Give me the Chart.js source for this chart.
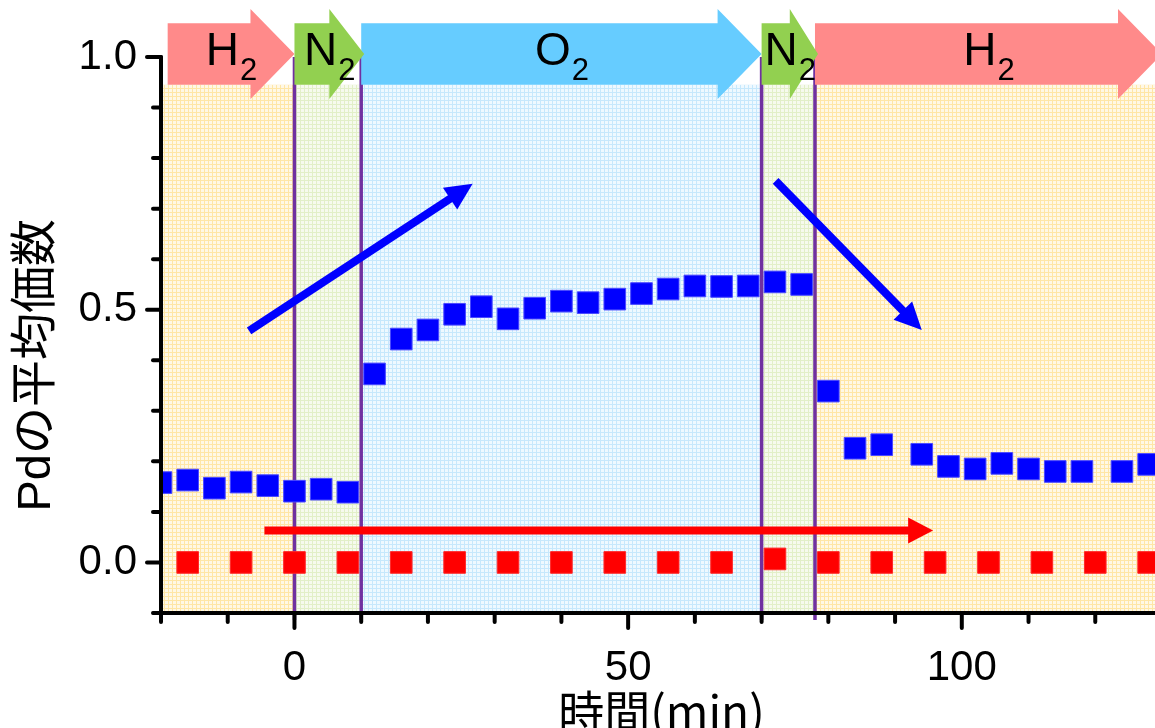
<!DOCTYPE html>
<html>
<head>
<meta charset="utf-8">
<script src="https://cdn.jsdelivr.net/npm/chart.js@4/dist/chart.umd.min.js"></script>
<style>
  html, body { margin: 0; padding: 0; overflow: hidden; background: #fff; }
  canvas { display: block; }
</style>
</head>
<body>
<canvas id="chart" width="1200" height="760"></canvas>
<script>
// Time (min) and average Pd valence, sampled every 4 min
const blueTime = [-20, -16, -12, -8, -4, 0, 4, 8, 12, 16, 20, 24, 28, 32, 36, 40, 44, 48,
                  52, 56, 60, 64, 68, 72, 76, 80, 84, 88, 94, 98, 102, 106, 110, 114, 118, 124, 128];
const blueValue = [0.158, 0.163, 0.147, 0.159, 0.152, 0.141, 0.145, 0.139, 0.373, 0.442, 0.460,
                   0.491, 0.506, 0.482, 0.503, 0.517, 0.514, 0.521, 0.532, 0.541, 0.547, 0.546,
                   0.547, 0.555, 0.550, 0.339, 0.226, 0.233, 0.214, 0.190, 0.185, 0.196, 0.185,
                   0.180, 0.180, 0.180, 0.194];

// Reference series, sampled every 8 min
const redTime = [-16, -8, 0, 8, 16, 24, 32, 40, 48, 56, 64, 72, 80, 88, 96, 104, 112, 120, 128];
const redValue = [0, 0, 0, 0, 0, 0, 0, 0, 0, 0, 0, 0.007, 0, 0, 0, 0, 0, 0, 0];

// Gas atmosphere phases
const phaseGas = ['H', 'N', 'O', 'N', 'H'];
const phaseStart = [-20, 0, 10, 70, 78];
const phaseEnd = [0, 10, 70, 78, 130];

// Axis ranges and labelled ticks
const xMin = -20, xMax = 130, xStep = 10, xLabelEvery = 50;
const yMin = -0.1, yMax = 1.0, yStep = 0.1, yLabelEvery = 0.5;
const yTitle = 'Pdの平均価数';
const xTitle = '時間(min)';

// Trend arrows [x, y] in data units
const trendFrom = [[-6.8, 0.458], [72.1, 0.755], [-4.5, 0.063]];
const trendTo = [[26.7, 0.749], [94.0, 0.460], [95.7, 0.063]];
const trendColor = ['#0000FF', '#0000FF', '#FF0000'];

const FONT = '"Liberation Sans", "Noto Sans CJK JP", Arial, sans-serif';
const gasStyle = {
  H: { fill: '#FF8A8A', line: '#FFE6A6', base: '#FFF8E6' },
  N: { fill: '#92D050', line: '#E2EFC8', base: '#F6FAEE' },
  O: { fill: '#66CCFF', line: '#C6E8FC', base: '#EEF9FF' }
};

function makePattern(ctx, base, line) {
  const c = document.createElement('canvas');
  c.width = 4; c.height = 4;
  const p = c.getContext('2d');
  p.fillStyle = base; p.fillRect(0, 0, 4, 4);
  p.fillStyle = line; p.fillRect(0, 0, 4, 1); p.fillRect(0, 0, 1, 4);
  return ctx.createPattern(c, 'repeat');
}

function toPoints(xs, ys) { return xs.map((x, i) => ({ x: x, y: ys[i] })); }

const isMultiple = (v, step) => Math.abs(v / step - Math.round(v / step)) < 1e-6;

// Shaded atmosphere regions and boundaries, under everything else
const regionPlugin = {
  id: 'regions',
  beforeDraw(chart) {
    const { ctx, chartArea, scales: { x, y } } = chart;
    ctx.save();
    ctx.fillStyle = '#fff';
    ctx.fillRect(0, 0, chart.width, chart.height);
    const top = y.getPixelForValue(0.945);
    phaseGas.forEach((g, i) => {
      const x0 = x.getPixelForValue(phaseStart[i]);
      const x1 = x.getPixelForValue(phaseEnd[i]);
      ctx.fillStyle = makePattern(ctx, gasStyle[g].base, gasStyle[g].line);
      ctx.fillRect(x0, top, x1 - x0, chartArea.bottom - top);
    });
    ctx.strokeStyle = '#7030A0';
    ctx.lineWidth = 3.5;
    phaseEnd.slice(0, -1).forEach(v => {
      const px = x.getPixelForValue(v);
      ctx.beginPath();
      ctx.moveTo(px, y.getPixelForValue(1.0));
      ctx.lineTo(px, chartArea.bottom + 7);
      ctx.stroke();
    });
    ctx.restore();
  }
};

function drawArrow(ctx, x0, y0, x1, y1, color, width, headLen, headHalf) {
  const dx = x1 - x0, dy = y1 - y0;
  const len = Math.hypot(dx, dy);
  const ux = dx / len, uy = dy / len;
  const bx = x1 - ux * headLen, by = y1 - uy * headLen;
  ctx.strokeStyle = color; ctx.fillStyle = color;
  ctx.lineWidth = width; ctx.lineCap = 'butt';
  ctx.beginPath(); ctx.moveTo(x0, y0); ctx.lineTo(bx + ux * 2, by + uy * 2); ctx.stroke();
  ctx.beginPath();
  ctx.moveTo(x1, y1);
  ctx.lineTo(bx - uy * headHalf, by + ux * headHalf);
  ctx.lineTo(bx + uy * headHalf, by - ux * headHalf);
  ctx.closePath(); ctx.fill();
}

// Trend arrows, drawn over the data
const trendPlugin = {
  id: 'trends',
  afterDatasetsDraw(chart) {
    const { ctx, scales: { x, y } } = chart;
    ctx.save();
    trendFrom.forEach((f, i) => {
      const t = trendTo[i];
      drawArrow(ctx, x.getPixelForValue(f[0]), y.getPixelForValue(f[1]),
                x.getPixelForValue(t[0]), y.getPixelForValue(t[1]),
                trendColor[i], 8, i === 2 ? 25 : 27, 13);
    });
    ctx.restore();
  }
};

// Axis lines, tick marks, y title and the gas banner arrows on top
const framePlugin = {
  id: 'frame',
  afterDraw(chart) {
    const { ctx, chartArea, scales: { x, y } } = chart;
    ctx.save();
    ctx.strokeStyle = '#000';
    ctx.lineWidth = 4;
    ctx.lineCap = 'round';
    ctx.beginPath();
    ctx.moveTo(chartArea.left, y.getPixelForValue(yMax));
    ctx.lineTo(chartArea.left, chartArea.bottom);
    ctx.moveTo(chartArea.left - 7, chartArea.bottom);
    ctx.lineTo(chartArea.right, chartArea.bottom);
    ctx.stroke();
    x.ticks.forEach(t => {
      const px = x.getPixelForValue(t.value);
      const len = isMultiple(t.value, xLabelEvery) ? 15 : 9;
      ctx.beginPath(); ctx.moveTo(px, chartArea.bottom); ctx.lineTo(px, chartArea.bottom + len); ctx.stroke();
    });
    y.ticks.forEach(t => {
      const py = y.getPixelForValue(t.value);
      const len = isMultiple(t.value, yLabelEvery) ? 14 : 8;
      ctx.beginPath(); ctx.moveTo(chartArea.left, py); ctx.lineTo(chartArea.left - len, py); ctx.stroke();
    });

    // rotated y-axis title
    ctx.save();
    ctx.translate(37, y.getPixelForValue(0.39));
    ctx.rotate(-Math.PI / 2);
    ctx.fillStyle = '#000';
    ctx.font = '47px ' + FONT;
    ctx.textAlign = 'center';
    ctx.textBaseline = 'middle';
    ctx.fillText(yTitle, 0, 0);
    ctx.restore();

    // banner arrows: oxygen first, then hydrogen, nitrogen on top
    const yRt = y.getPixelForValue(1.067), yRb = y.getPixelForValue(0.945);
    const yHt = y.getPixelForValue(1.095), yHb = y.getPixelForValue(0.917);
    const yM = (yRt + yRb) / 2;
    const order = ['O', 'H', 'N'];
    order.forEach(gas => {
      phaseGas.forEach((g, i) => {
        if (g !== gas) return;
        const x0 = x.getPixelForValue(Math.max(phaseStart[i], xMin + 1));
        const x1 = x.getPixelForValue(phaseEnd[i]) + (g === 'N' ? 3 : 0);
        const head = Math.min(44, (x1 - x0) / 2);
        ctx.fillStyle = gasStyle[g].fill;
        ctx.beginPath();
        ctx.moveTo(x0, yRt); ctx.lineTo(x1 - head, yRt); ctx.lineTo(x1 - head, yHt);
        ctx.lineTo(x1, yM); ctx.lineTo(x1 - head, yHb); ctx.lineTo(x1 - head, yRb);
        ctx.lineTo(x0, yRb); ctx.closePath(); ctx.fill();

        const mainFont = '46px ' + FONT, subFont = '31px ' + FONT;
        ctx.font = mainFont; const wMain = ctx.measureText(g).width;
        ctx.font = subFont; const wSub = ctx.measureText('2').width;
        const cx = (x0 + x1) / 2;
        const start = cx - (wMain + wSub) / 2;
        ctx.fillStyle = '#000';
        ctx.textAlign = 'left';
        ctx.textBaseline = 'alphabetic';
        ctx.font = mainFont; ctx.fillText(g, start, yM + 11);
        ctx.font = subFont; ctx.fillText('2', start + wMain + 1, yM + 26);
      });
    });
    ctx.restore();
  }
};

new Chart(document.getElementById('chart'), {
  type: 'scatter',
  data: {
    datasets: [
      {
        data: toPoints(blueTime, blueValue),
        pointStyle: 'rect', pointRadius: 15.3, pointHoverRadius: 15.3,
        backgroundColor: '#0000FF', borderColor: '#4A4AFF', borderWidth: 1,
        showLine: false, clip: 0
      },
      {
        data: toPoints(redTime, redValue),
        pointStyle: 'rect', pointRadius: 15.3, pointHoverRadius: 15.3,
        backgroundColor: '#FF0000', borderColor: '#FF2A2A', borderWidth: 1,
        showLine: false, clip: 0
      }
    ]
  },
  options: {
    responsive: false,
    animation: false,
    devicePixelRatio: 1,
    layout: { padding: { top: 57, right: 38, bottom: 0, left: 0 } },
    plugins: { legend: { display: false }, tooltip: { enabled: false } },
    scales: {
      x: {
        type: 'linear', min: xMin, max: xMax,
        afterFit(scale) { scale.height = 147; },
        grid: { display: false, drawTicks: false },
        border: { display: false },
        ticks: {
          stepSize: xStep, autoSkip: false, maxRotation: 0, padding: 30,
          color: '#000', font: { family: FONT, size: 42 },
          callback: v => isMultiple(v, xLabelEvery) ? String(Math.round(v)) : ''
        },
        title: {
          display: true, text: xTitle, color: '#000',
          font: { family: '"Noto Sans CJK JP", sans-serif', size: 46 },
          padding: { top: 0, bottom: 21 }
        }
      },
      y: {
        type: 'linear', min: yMin, max: yMax,
        afterFit(scale) { scale.width = 161; },
        grid: { display: false, drawTicks: false },
        border: { display: false },
        ticks: {
          stepSize: yStep, autoSkip: false, padding: 24,
          color: '#000', font: { family: FONT, size: 42 },
          callback: v => isMultiple(v, yLabelEvery) ? v.toFixed(1) : ''
        },
        title: { display: false }
      }
    }
  },
  plugins: [regionPlugin, trendPlugin, framePlugin]
});
</script>
</body>
</html>
